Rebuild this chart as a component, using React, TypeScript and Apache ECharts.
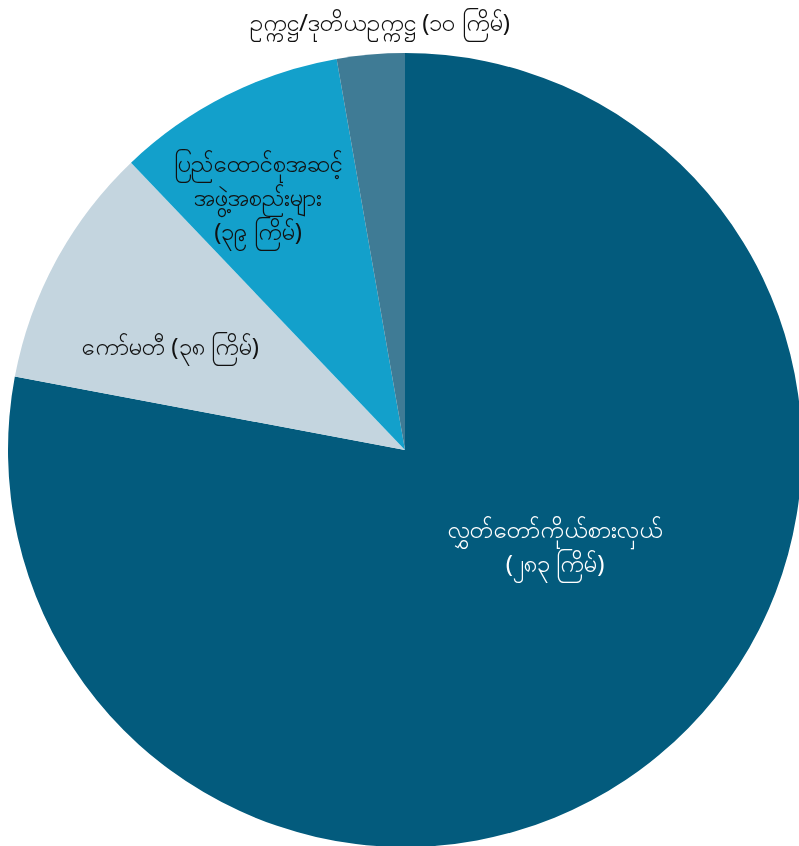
import React, { useEffect, useRef } from "react";
import * as echarts from "echarts";

const categories = [
  "လွှတ်တော်ကိုယ်စားလှယ်\n(၂၈၃ ကြိမ်)",
  "ကော်မတီ (၃၈ ကြိမ်)",
  "ပြည်ထောင်စုအဆင့်\nအဖွဲ့အစည်းများ\n(၃၉ ကြိမ်)",
  "ဥက္ကဋ္ဌ/ဒုတိယဥက္ကဋ္ဌ (၁၀ ကြိမ်)",
];
// slice sizes as drawn in the picture
const values = [283, 36, 34, 10];
const colors = ["#035B7D", "#C4D5DF", "#13A0CB", "#3F7B95"];
const labelColors = ["#ffffff", "#111111", "#111111", "#111111"];
const labelLineHeights = [34, 34, 34, 30];
const labelPos = [
  [555, 545],
  [170, 345],
  [258, 196],
  [380, 21],
];

export default function App() {
  const ref = useRef<HTMLDivElement>(null);
  useEffect(() => {
    const chart = echarts.init(ref.current!, null, { renderer: "svg" });
    chart.setOption({
      animation: false,
      series: [
        {
          type: "pie",
          center: [405, 450],
          radius: 397,
          startAngle: 90,
          clockwise: true,
          silent: true,
          labelLine: { show: false },
          label: {
            show: true,
            position: "inside",
            formatter: "{b}",
            fontFamily: "Noto Sans",
            fontSize: 24,
            lineHeight: 34,
            align: "center",
          },
          labelLayout: (p: any) => ({
            x: labelPos[p.dataIndex][0],
            y: labelPos[p.dataIndex][1],
            align: "center",
            verticalAlign: "middle",
          }),
          data: categories.map((name, i) => ({
            name,
            value: values[i],
            itemStyle: { color: colors[i] },
            label: { color: labelColors[i], lineHeight: labelLineHeights[i] },
          })),
        },
      ],
    });
    return () => chart.dispose();
  }, []);
  return (
    <div
      ref={ref}
      style={{ position: "fixed", left: 0, top: 0, width: 799, height: 846 }}
    />
  );
}
